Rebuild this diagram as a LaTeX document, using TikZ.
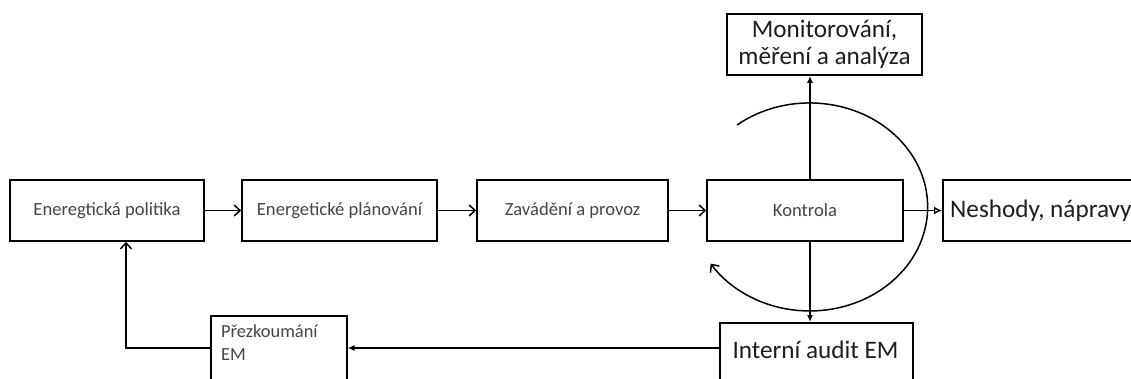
\documentclass[tikz,border=0pt]{standalone}
\usepackage{fontspec}
\setmainfont{Carlito}
\usetikzlibrary{arrows.meta}
\definecolor{txt}{RGB}{70,70,70}
\definecolor{txtb}{RGB}{30,30,30}
\begin{document}
\begin{tikzpicture}[x=1pt,y=-1pt,
  box/.style={draw, line width=1.6pt, minimum height=61pt, inner sep=0pt, text=txt,
              font=\fontsize{18.6}{20}\selectfont},
  plainbox/.style={draw, line width=1.6pt, inner sep=0pt},
  bigtext/.style={inner sep=0pt, text=txtb, font=\fontsize{25.2}{28}\selectfont},
  smalltext/.style={inner sep=0pt, text=txt, font=\fontsize{18.4}{23}\selectfont},
  conn/.style={line width=1.5pt},
  openarr/.style={conn, -{Straight Barb[length=6pt,width=11pt,line width=1.5pt]}},
  fillarr/.style={conn, -{Latex[length=7pt,width=6pt]}},
  nesarr/.style={conn, -{Latex[open,length=8pt,width=8pt,line width=1.3pt]}}]
\useasboundingbox (0,0) rectangle (1131,379);
\clip (0,0) rectangle (1131,379);
\fill[white] (0,0) rectangle (1131,379);

\node[box, minimum width=194pt] (pol) at (107,210.5) {Eneregtická politika};
\node[box, minimum width=195pt] (plan) at (339.5,210.5) {Energetické plánování};
\node[box, minimum width=191pt] (zav) at (572.5,210.5) {Zavádění a provoz};
\node[box, minimum width=196pt] (kon) at (805,210.5) {Kontrola};
\node[plainbox, minimum width=200pt, minimum height=61pt, anchor=west] (nes) at (942,210.5) {};
\node[bigtext, anchor=west] (nest) at ([xshift=8pt]nes.west) {Neshody, nápravy};

\node[box, bigtext, draw, line width=1.6pt, minimum width=195pt, align=center] (mon) at (824.5,44.5)
  {Monitorování,\\[-1pt]měření a analýza};

\node[plainbox, anchor=north west, minimum width=193pt, minimum height=100pt] (aud) at (719,322) {};
\node[bigtext] (audt) at (815.5,350) {Interní audit EM};

\node[plainbox, anchor=north west, minimum width=136pt, minimum height=100pt] (rev) at (210,315) {};
\node[smalltext, anchor=north west, align=left] (revt) at (221,325) {Přezkoumání\\EM};

\coordinate (ya) at (0,348);
\coordinate (bk) at (126,348);
\coordinate (kx) at (810,0);

\draw[openarr] (pol.east) -- (plan.west);
\draw[openarr] (plan.east) -- (zav.west);
\draw[openarr] (zav.east) -- (kon.west);
\draw[nesarr] (kon.east) -- (nes.west);
\draw[fillarr] (kon.north -| kx) -- (mon.south -| kx);
\draw[fillarr] (kon.south -| kx) -- (aud.north -| kx);
\draw[fillarr] (aud.west |- ya) -- (rev.east |- ya);
\draw[openarr] (rev.west |- ya) -- (bk) -- (bk |- pol.south);

\draw[openarr] (737,125) arc[start angle=128, end angle=-147, x radius=118pt, y radius=104pt];
\end{tikzpicture}
\end{document}
